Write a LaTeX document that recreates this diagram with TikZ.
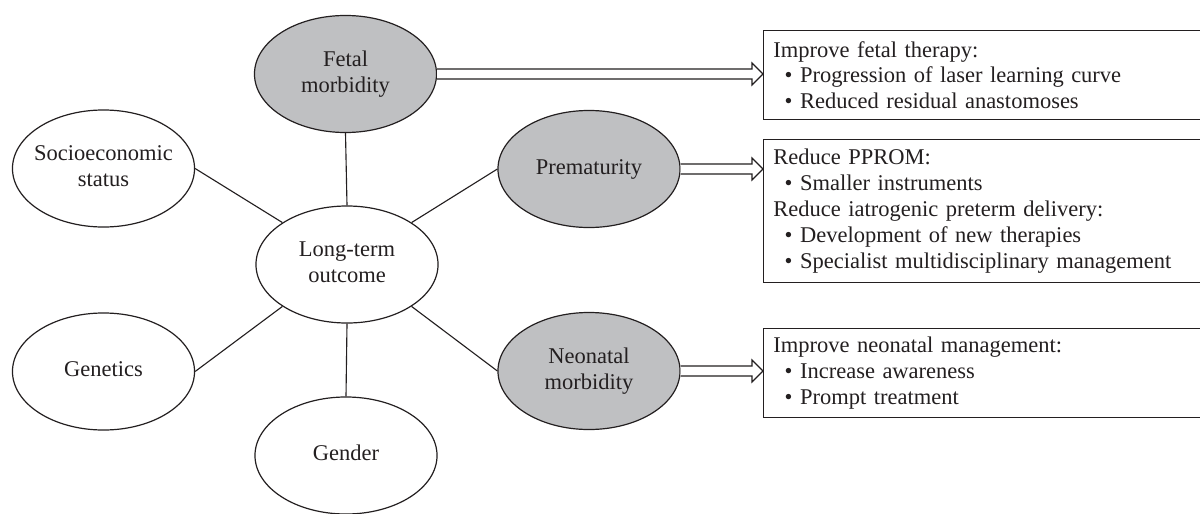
\documentclass[tikz,border=0pt]{standalone}
\usepackage{fontspec}
\setmainfont{Liberation Serif}
\usetikzlibrary{shapes.geometric,calc}
\definecolor{ellgray}{RGB}{191,192,194}
\definecolor{ink}{RGB}{35,31,32}
\newcommand\ctext[1]{\makebox[0pt]{\begin{tabular}{@{}c@{}}#1\end{tabular}}}
\newcommand\bul{\hspace*{8pt}\textbullet\ }
\tikzset{
  ell/.style={ellipse, draw=ink, line width=0.85pt, inner sep=0pt,
    minimum width=4.55cm, minimum height=2.925cm, text=ink},
  outcome/.style={ell, fill=ellgray},
  factor/.style={ell, fill=white},
  infobox/.style={draw=ink, line width=0.85pt, anchor=north west, align=left,
    inner xsep=7pt, inner ysep=0pt, text width=11.175cm-14pt, text=ink},
  link/.style={draw=ink, line width=0.8pt},
  hollow/.style={draw=ink, line width=0.8pt, fill=white, line join=miter}
}
\newcommand\hollowarrow[2]{%
  \path[hollow] let \p1=(#1.east), \p2=(#1.east -| #2.west) in
    (\x1,\y1+3.56pt) -- (\x2-7.8pt,\y1+3.56pt) -- (\x2-7.8pt,\y1+7.8pt)
    -- (\x2,\y1) -- (\x2-7.8pt,\y1-7.8pt) -- (\x2-7.8pt,\y1-3.56pt) -- (\x1,\y1-3.56pt);}
\begin{document}
\begin{tikzpicture}[x=0.025cm, y=-0.025cm, font=\fontsize{16}{18.4}\selectfont]
\useasboundingbox (0,0) rectangle (1200,513);
\clip (0,0) rectangle (1200,513);

\node[outcome] (fetal) at (345.5,74) {\ctext{Fetal\\morbidity}};
\node[factor] (center) at (347,264.5) {\ctext{Long-term\\outcome}};
\node[outcome] (prem) at (589,169) {\ctext{Prematurity}};
\node[outcome] (neo) at (589,371) {\ctext{Neonatal\\morbidity}};
\node[factor] (socio) at (103.5,168.5) {\ctext{Socioeconomic\\status}};
\node[factor] (gen) at (103.5,371.5) {\ctext{Genetics}};
\node[factor] (gender) at (346,455.5) {\ctext{Gender}};

\draw[link] (fetal.south) -- (center.north);
\draw[link] (center.south) -- (gender.north);
\draw[link] (socio.east) -- (center.147);
\draw[link] (gen.east) -- (center.213);
\draw[link] (prem.west) -- (center.33);
\draw[link] (neo.west) -- (center.-33);

\node[infobox, minimum height=2.225cm] (box1) at (763,30)
  {Improve fetal therapy:\\
   \bul Progression of laser learning curve\\
   \bul Reduced residual anastomoses};
\node[infobox, minimum height=3.575cm] (box2) at (763,139)
  {Reduce PPROM:\\
   \bul Smaller instruments\\
   Reduce iatrogenic preterm delivery:\\
   \bul Development of new therapies\\
   \bul Specialist multidisciplinary management};
\node[infobox, minimum height=2.225cm] (box3) at (763,328)
  {Improve neonatal management:\\
   \bul Increase awareness\\
   \bul Prompt treatment};

\hollowarrow{fetal}{box1}
\hollowarrow{prem}{box2}
\hollowarrow{neo}{box3}
\end{tikzpicture}
\end{document}
